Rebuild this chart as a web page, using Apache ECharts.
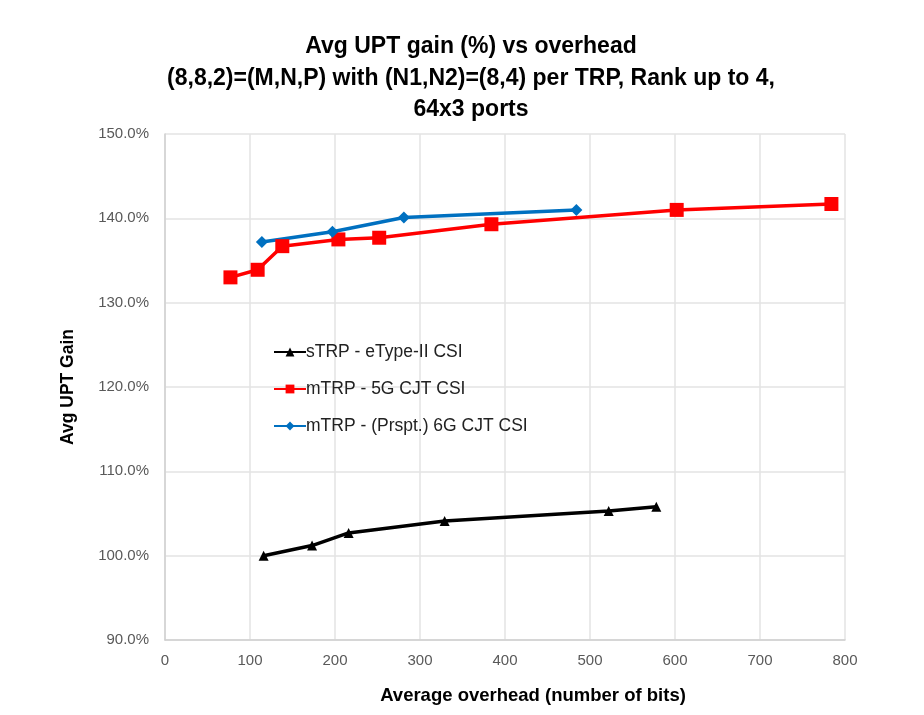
<!DOCTYPE html>
<html>
<head>
<meta charset="utf-8">
<script src="https://cdn.jsdelivr.net/npm/echarts@6/dist/echarts.min.js"></script>
<style>html,body{margin:0;padding:0;background:#fff}#c{width:924px;height:715px}</style>
</head>
<body>
<div id="c"></div>
<script>
const titleLines = ["Avg UPT gain (%) vs overhead", "(8,8,2)=(M,N,P) with (N1,N2)=(8,4) per TRP, Rank up to 4,", "64x3 ports"];
const seriesNames = ["sTRP - eType-II CSI", "mTRP - 5G CJT CSI", "mTRP - (Prspt.) 6G CJT CSI"];
const sTRP_x = [116, 173, 216, 329, 522, 578];
const sTRP_y = [100.0, 101.2, 102.7, 104.1, 105.3, 105.8];
const mTRP5G_x = [77, 109, 138, 204, 252, 384, 602, 784];
const mTRP5G_y = [133.0, 133.9, 136.7, 137.5, 137.7, 139.3, 141.0, 141.7];
const mTRP6G_x = [114, 197, 281, 484];
const mTRP6G_y = [137.2, 138.4, 140.1, 141.0];
const xTicks = [0, 100, 200, 300, 400, 500, 600, 700, 800];
const yTicks = [90, 100, 110, 120, 130, 140, 150];
const xAxisName = "Average overhead (number of bits)";
const yAxisName = "Avg UPT Gain";

const zip = (xs, ys) => xs.map((x, i) => [x, ys[i]]);
const font = "'Liberation Sans',Arial,sans-serif";
const chart = echarts.init(document.getElementById('c'));
chart.setOption({
  animation: false,
  backgroundColor: '#fff',
  title: {
    text: titleLines.join('\n'),
    left: 466, top: 26, textAlign: 'center',
    textStyle: { fontFamily: font, fontSize: 23, fontWeight: 'bold', color: '#000', lineHeight: 31.5 }
  },
  grid: { left: 165, right: 79, top: 134, bottom: 75, containLabel: false },
  legend: {
    orient: 'vertical', left: 268, top: 338, itemGap: 19, itemWidth: 32, itemHeight: 11,
    textStyle: { fontFamily: font, fontSize: 17.5, color: '#222', padding: [0,0,0,-5] },
    data: seriesNames
  },
  xAxis: {
    type: 'value', min: xTicks[0], max: xTicks[xTicks.length-1], interval: 100,
    name: xAxisName, nameLocation: 'middle', nameGap: 46,
    nameTextStyle: { fontFamily: font, fontSize: 18.5, fontWeight: 'bold', color: '#000', padding: [0,0,0,56] },
    axisLine: { show: true, lineStyle: { color: '#d0d0d0', width: 1.5 } },
    axisTick: { show: false },
    axisLabel: { fontFamily: font, fontSize: 15, color: '#595959', margin: 13 },
    splitLine: { show: true, lineStyle: { color: '#e3e3e3', width: 1.5 } }
  },
  yAxis: {
    type: 'value', min: yTicks[0], max: yTicks[yTicks.length-1], interval: 10,
    name: yAxisName, nameLocation: 'middle', nameGap: 88, nameRotate: 90,
    nameTextStyle: { fontFamily: font, fontSize: 17.5, fontWeight: 'bold', color: '#000' },
    axisLine: { show: true, lineStyle: { color: '#d0d0d0', width: 1.5 } },
    axisTick: { show: false },
    axisLabel: { fontFamily: font, fontSize: 15, color: '#595959', margin: 16,
      formatter: v => v.toFixed(1) + '%' },
    splitLine: { show: true, lineStyle: { color: '#e3e3e3', width: 1.5 } }
  },
  series: [
    { name: seriesNames[0], type: 'line', data: zip(sTRP_x, sTRP_y), symbol: 'triangle', symbolSize: 10,
      lineStyle: { color: '#000', width: 3.5 }, itemStyle: { color: '#000' } },
    { name: seriesNames[1], type: 'line', data: zip(mTRP5G_x, mTRP5G_y), symbol: 'rect', symbolSize: 14,
      lineStyle: { color: '#ff0000', width: 3.5 }, itemStyle: { color: '#ff0000' } },
    { name: seriesNames[2], type: 'line', data: zip(mTRP6G_x, mTRP6G_y), symbol: 'diamond', symbolSize: 12,
      lineStyle: { color: '#0070c0', width: 3.5 }, itemStyle: { color: '#0070c0' } }
  ]
});
</script>
</body>
</html>
